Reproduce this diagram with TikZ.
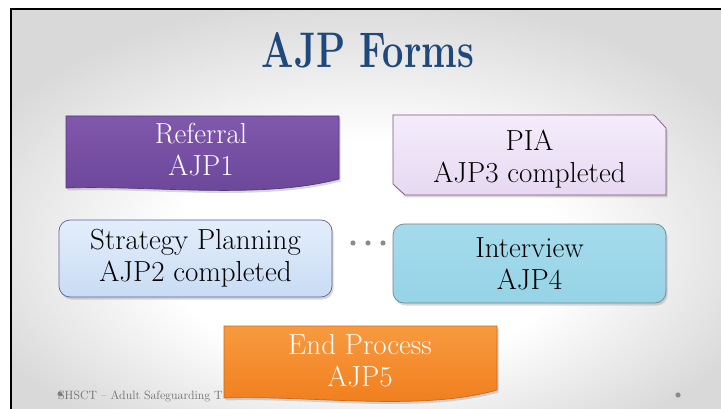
\documentclass[tikz,border=0pt]{standalone}
\usetikzlibrary{shadows}
\definecolor{titleblue}{HTML}{1F497D}
\definecolor{slidegray}{HTML}{D9D9D9}
\definecolor{footgray}{HTML}{6E6E6E}
\definecolor{refpurple}{HTML}{8058AC}
\definecolor{refpurpledk}{HTML}{6A4598}
\definecolor{pialav}{HTML}{F4ECFB}
\definecolor{pialavdk}{HTML}{E6D9F1}
\definecolor{stratblue}{HTML}{E3EEFB}
\definecolor{stratbluedk}{HTML}{C9DCF4}
\definecolor{intvcyan}{HTML}{A4DBEC}
\definecolor{intvcyandk}{HTML}{96D3E6}
\definecolor{endorange}{HTML}{F89A40}
\definecolor{endorangedk}{HTML}{EF7C1A}
\pgfdeclareradialshading{slideglow}{\pgfpoint{0bp}{-8bp}}{color(0bp)=(white); color(14bp)=(white); color(30bp)=(slidegray); color(50bp)=(slidegray)}
\begin{document}
\begin{tikzpicture}[x=1pt,y=-1pt,
	box/.style={draw,line width=.7pt,drop shadow={opacity=.3,shadow xshift=1.5pt,shadow yshift=-2.5pt}},
	lbl/.style={align=center,font=\fontsize{29}{32}\selectfont},
	dot/.style={fill=footgray!80,draw=none}]
	\def\w{273} % box width
	\useasboundingbox (0,0) rectangle (721,409);
	% slide
	\fill[white] (0,0) rectangle (721,409);
	\shade[shading=slideglow] (11,9) rectangle (721,409);
	\draw[line width=2.2pt] (11,409)--(11,9)--(721,9);
	% title
	\node[text=titleblue,font=\fontsize{50}{50}\bfseries,xscale=.76,transform shape] (title) at (368,50) {AJP Forms};
	% referral
	\path
	(66,116) coordinate (R1)
	(66+\w,116) coordinate (R2)
	(66+\w,179) coordinate (R3)
	(66,188) coordinate (R4);
	\draw[box,draw=refpurpledk!80!black,top color=refpurple,bottom color=refpurpledk]
	(R1)--(R2)--(R3) .. controls (260,200) and (150,185) .. (R4)--cycle;
	\node[lbl,text=white] (ref) at (201,150) {Referral\\AJP1};
	% pia
	\path
	(393,115) coordinate (P1)
	(654,115) coordinate (P2)
	(666,128) coordinate (P3)
	(666,195) coordinate (P4)
	(405,195) coordinate (P5)
	(393,184) coordinate (P6);
	\draw[box,draw=violet!35!gray,top color=pialav,bottom color=pialavdk]
	(P1)--(P2)--(P3)--(P4)--(P5)--(P6)--cycle;
	\node[lbl] (pia) at (529.5,159) {PIA\\AJP3 completed};
	% strategy, interview
	\node[box,lbl,rounded corners=11pt,minimum width=\w pt,minimum height=77pt,
	draw=blue!25!gray,top color=stratblue,bottom color=stratbluedk] (strat) at (195.5,258.5) {Strategy Planning\\AJP2 completed};
	\node[box,lbl,rounded corners=11pt,minimum width=\w pt,minimum height=79pt,
	draw=cyan!25!gray!80!black,top color=intvcyan,bottom color=intvcyandk] (intv) at (529.5,263.5) {Interview\\AJP4};
	\foreach \x in {353,368,383}
	\fill[dot] (\x,243) circle (2.6pt);
	% footer
	\fill[dot] (60,394) circle (2.6pt);
	\fill[dot] (678,395) circle (2.6pt);
	\node[anchor=base west,text=footgray,inner sep=0pt,font=\fontsize{12}{12}\selectfont] (foot) at (58,399) {SHSCT -- Adult Safeguarding T};
	% end process
	\path
	(224,326) coordinate (E1)
	(224+\w,326) coordinate (E2)
	(224+\w,390) coordinate (E3)
	(224,398) coordinate (E4);
	\draw[box,draw=endorangedk!85!black,top color=endorange,bottom color=endorangedk]
	(E1)--(E2)--(E3) .. controls (420,412) and (310,395) .. (E4)--cycle;
	\node[lbl,text=white] (endp) at (360,361) {End Process\\AJP5};
\end{tikzpicture}
\end{document}
